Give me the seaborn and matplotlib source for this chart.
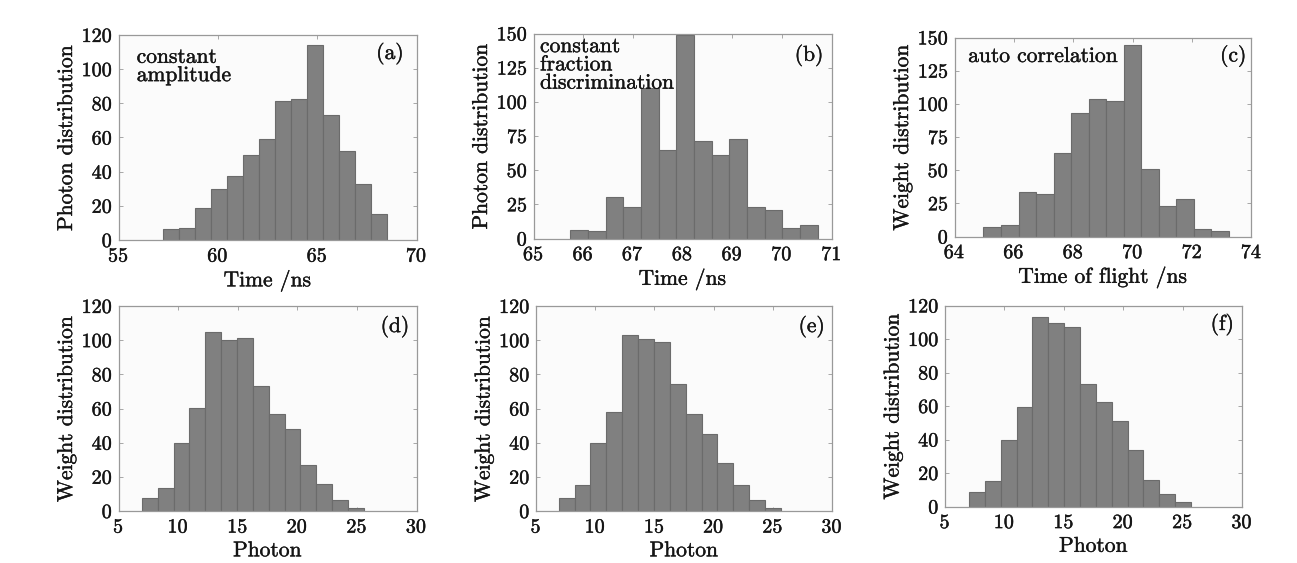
import numpy as np
import pandas as pd
import matplotlib
matplotlib.use("Agg")
import matplotlib.pyplot as plt
import matplotlib.patheffects as pe
import seaborn as sns

# bin start, bin width and bar heights
a_start, a_width = 57.25, 0.803
a_counts = [6.5, 7, 19, 30, 37.5, 49.5, 59, 81.5, 82.5, 114, 73, 52, 33, 15]

b_start, b_width = 65.74, 0.356
b_counts = [6.3, 5.6, 30.5, 22.7, 110, 64.6, 149, 71, 61, 72.7, 22.7, 21, 7.5, 10]

c_start, c_width = 64.975, 0.59
c_counts = [7, 8.5, 33.7, 31.7, 63, 93, 104, 102, 144, 51, 23, 28, 5.5, 3.8]

d_start, d_width = 6.96, 1.33
d_counts = [7.8, 13.7, 39.7, 60.2, 105, 100, 101.2, 72.9, 56.7, 47.9, 26.8, 16, 6.3, 1.8]

e_start, e_width = 6.92, 1.34
e_counts = [7.8, 15, 39.8, 57.8, 103, 100.4, 99.2, 74.3, 56.9, 45, 28, 15, 6.3, 2]

f_start, f_width = 7.02, 1.335
f_counts = [8.6, 15, 40, 59.4, 113.2, 109.4, 107, 73.4, 62.4, 51.2, 33.5, 16.1, 7.2, 2.4]

panels = [
    dict(start=a_start, width=a_width, counts=a_counts, xlim=(55, 70), xticks=[55, 60, 65, 70],
         ylim=(0, 120), yticks=[0, 20, 40, 60, 80, 100, 120], xlabel="Time /ns",
         ylabel="Photon distribution", tag="(a)", tag_xy=(0.957, 0.966),
         note="constant\namplitude", note_xy=(0.061, 0.94),
         box=(118.5, 35, 298, 205)),
    dict(start=b_start, width=b_width, counts=b_counts, xlim=(65, 71), xticks=[65, 66, 67, 68, 69, 70, 71],
         ylim=(0, 150), yticks=[0, 25, 50, 75, 100, 125, 150], xlabel="Time /ns",
         ylabel="Photon distribution", tag="(b)", tag_xy=(0.973, 0.95),
         note="constant\nfraction\ndiscrimination", note_xy=(0.022, 0.985),
         box=(533.5, 33.5, 298, 205)),
    dict(start=c_start, width=c_width, counts=c_counts, xlim=(64, 74), xticks=[64, 66, 68, 70, 72, 74],
         ylim=(0, 150), yticks=[0, 25, 50, 75, 100, 125, 150], xlabel="Time of flight /ns",
         ylabel="Weight distribution", tag="(c)", tag_xy=(0.983, 0.965),
         note="auto correlation", note_xy=(0.046, 0.955),
         box=(954.5, 37.5, 297, 199)),
    dict(start=d_start, width=d_width, counts=d_counts, xlim=(5, 30), xticks=[5, 10, 15, 20, 25, 30],
         ylim=(0, 120), yticks=[0, 20, 40, 60, 80, 100, 120], xlabel="Photon",
         ylabel="Weight distribution", tag="(d)", tag_xy=(0.976, 0.956),
         note=None, note_xy=None, box=(118.5, 306, 298, 205)),
    dict(start=e_start, width=e_width, counts=e_counts, xlim=(5, 30), xticks=[5, 10, 15, 20, 25, 30],
         ylim=(0, 120), yticks=[0, 20, 40, 60, 80, 100, 120], xlabel="Photon",
         ylabel="Weight distribution", tag="(e)", tag_xy=(0.976, 0.956),
         note=None, note_xy=None, box=(536, 306, 296, 205)),
    dict(start=f_start, width=f_width, counts=f_counts, xlim=(5, 30), xticks=[5, 10, 15, 20, 25, 30],
         ylim=(0, 120), yticks=[0, 20, 40, 60, 80, 100, 120], xlabel="Photon",
         ylabel="Weight distribution", tag="(f)", tag_xy=(0.973, 0.963),
         note=None, note_xy=None, box=(945, 305.5, 297, 201)),
]

sns.set_style("ticks")
plt.rcParams['font.family'] = ['cmr10', 'DejaVu Serif']
plt.rcParams['mathtext.fontset'] = 'cm'
plt.rcParams['axes.formatter.use_mathtext'] = True
plt.rcParams['axes.unicode_minus'] = False

ink = "#151515"
bold = [pe.withStroke(linewidth=0.3, foreground=ink)]
tick_fs, label_fs = 14.5, 15.5

W, H = 1297, 563
fig = plt.figure(figsize=(W / 100, H / 100), dpi=100, facecolor="white")

for p in panels:
    x0, y0, w, h = p["box"]
    ax = fig.add_axes([x0 / W, 1 - (y0 + h) / H, w / W, h / H])
    ax.set_facecolor("#fbfbfb")
    n = len(p["counts"])
    edges = p["start"] + p["width"] * np.arange(n + 1)
    df = pd.DataFrame({"x": (edges[:-1] + edges[1:]) / 2, "w": p["counts"]})
    sns.histplot(data=df, x="x", weights="w", bins=edges.tolist(), ax=ax,
                 color="#808080", edgecolor="#6b6b6b", linewidth=0.8, alpha=1)
    ax.set_xlim(*p["xlim"])
    ax.set_ylim(*p["ylim"])
    ax.set_xticks(p["xticks"])
    ax.set_yticks(p["yticks"])
    ax.tick_params(direction="in", top=True, right=True, length=3, width=0.6,
                   color="#999999", labelsize=tick_fs, labelcolor=ink)
    ax.tick_params(axis="x", pad=5.5)
    ax.tick_params(axis="y", pad=4)
    for s in ax.spines.values():
        s.set_color("#999999")
        s.set_linewidth(0.9)
    ax.set_xlabel(p["xlabel"], fontsize=label_fs, labelpad=3, color=ink)
    ax.set_ylabel(p["ylabel"], fontsize=label_fs, labelpad=4, color=ink)
    for t in ax.get_xticklabels() + ax.get_yticklabels() + [ax.xaxis.label, ax.yaxis.label]:
        t.set_path_effects(bold)
    ax.text(p["tag_xy"][0], p["tag_xy"][1], p["tag"], transform=ax.transAxes,
            ha="right", va="top", fontsize=label_fs, color=ink, path_effects=bold)
    if p["note"]:
        ax.text(p["note_xy"][0], p["note_xy"][1], p["note"], transform=ax.transAxes,
                ha="left", va="top", fontsize=label_fs, linespacing=0.92, color=ink,
                path_effects=bold)

fig.savefig("out.png", dpi=100, facecolor="white")
